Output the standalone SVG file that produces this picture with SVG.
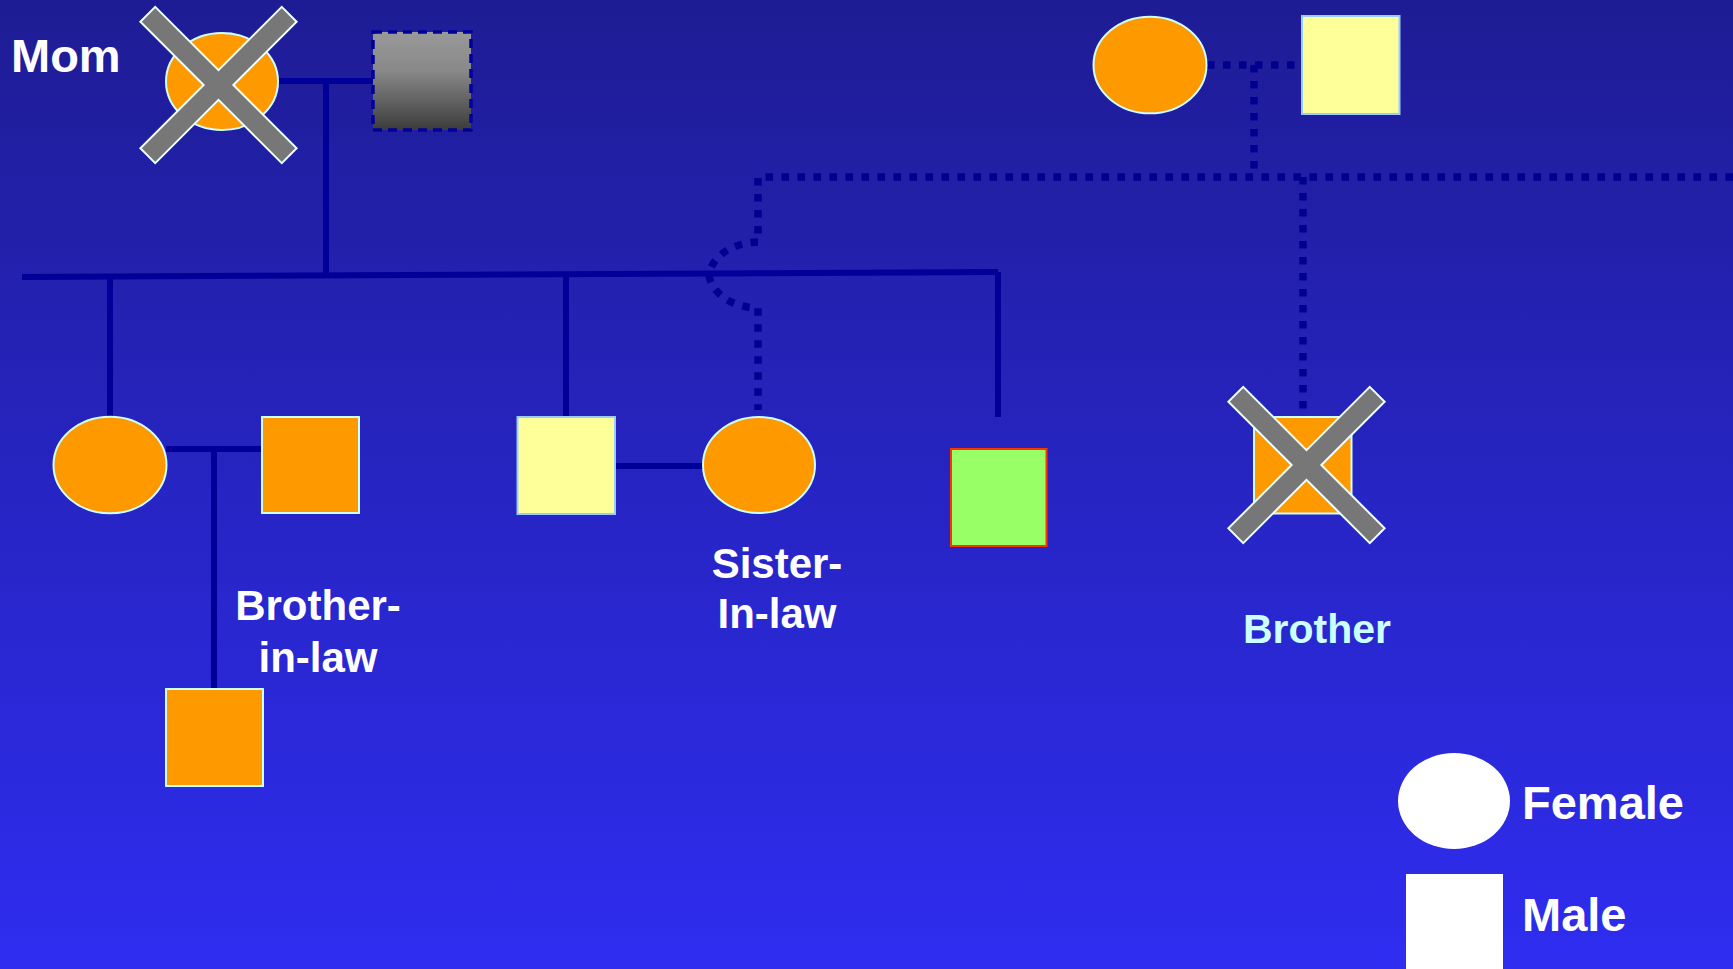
<svg xmlns="http://www.w3.org/2000/svg" width="1733" height="969" viewBox="0 0 1733 969">
<defs>
<linearGradient id="bg" x1="0" y1="0" x2="0" y2="1">
<stop offset="0" stop-color="#1e1c94"/>
<stop offset="1" stop-color="#2f2df0"/>
</linearGradient>
<linearGradient id="grey" x1="0" y1="0" x2="0" y2="1">
<stop offset="0" stop-color="#999999"/>
<stop offset="0.4" stop-color="#888888"/>
<stop offset="1" stop-color="#3c3c3c"/>
</linearGradient>
<path id="xshape" d="M-10.5 -100 H10.5 V-10.5 H100 V10.5 H10.5 V100 H-10.5 V10.5 H-100 V-10.5 H-10.5 Z"/>
<style>
.line{fill:none;stroke:#000099;stroke-width:6}
.dot{fill:none;stroke:#000090;stroke-width:7.5;stroke-dasharray:7.5 8.5}
.orange{fill:#ff9900;stroke:#ccffff;stroke-width:2}
.yellow{fill:#ffff99;stroke:#99ccff;stroke-width:2}
.cross{fill:#777777;stroke:#eeffff;stroke-width:2}
.lbl{font-family:"Liberation Sans",Arial,sans-serif;font-weight:bold;fill:#ffffff}
</style>
</defs>
<rect x="0" y="0" width="1733" height="969" fill="url(#bg)"/>
<g id="connectors">
<line class="line" x1="278" y1="81" x2="373" y2="81"/>
<line class="line" x1="326" y1="81" x2="326" y2="276"/>
<line class="line" x1="22" y1="277" x2="998" y2="272"/>
<line class="line" x1="110" y1="277" x2="110" y2="417"/>
<line class="line" x1="566" y1="275" x2="566" y2="417"/>
<line class="line" x1="998" y1="272" x2="998" y2="417"/>
<line class="line" x1="166" y1="449" x2="262" y2="449"/>
<line class="line" x1="214" y1="449" x2="214" y2="689"/>
<line class="line" x1="615" y1="466" x2="703" y2="466"/>
<line class="dot" x1="1207" y1="65" x2="1301" y2="65"/>
<line class="dot" x1="1254" y1="65" x2="1254" y2="177"/>
<path class="dot" d="M1733 177 L758 177 L758 242 C735 242 712 255 709 275 C712 295 735 308 758 308 L758 410"/>
<line class="dot" x1="1303" y1="177" x2="1303" y2="410"/>
</g>
<g id="mom">
<ellipse class="orange" cx="222" cy="81.5" rx="56" ry="48.5"/>
<use href="#xshape" class="cross" transform="translate(218.5 85) rotate(45)"/>
<text class="lbl" x="11" y="72" font-size="47">Mom</text>
</g>
<g id="father">
<rect x="373" y="32" width="98" height="98" fill="url(#grey)" stroke="#000099" stroke-width="3.5" stroke-dasharray="9 6"/>
</g>
<g id="grandmother">
<ellipse class="orange" cx="1150" cy="65" rx="56.5" ry="48.3"/>
</g>
<g id="grandfather">
<rect class="yellow" x="1302" y="16" width="97.5" height="98"/>
</g>
<g id="sister">
<ellipse class="orange" cx="110" cy="465" rx="56.5" ry="48.3"/>
</g>
<g id="brother-in-law">
<rect class="orange" x="262" y="417" width="97" height="96"/>
<text class="lbl" x="318" y="620" font-size="42" text-anchor="middle">Brother-</text>
<text class="lbl" x="318" y="672" font-size="42" text-anchor="middle">in-law</text>
</g>
<g id="nephew">
<rect class="orange" x="166" y="689" width="97" height="97"/>
</g>
<g id="yellow-son">
<rect class="yellow" x="517.5" y="417" width="97.5" height="97"/>
</g>
<g id="sister-in-law">
<ellipse class="orange" cx="759" cy="465" rx="56" ry="48"/>
<text class="lbl" x="777" y="578" font-size="42" text-anchor="middle">Sister-</text>
<text class="lbl" x="777" y="628" font-size="42" text-anchor="middle">In-law</text>
</g>
<g id="green-son">
<rect x="951" y="449" width="95.5" height="97" fill="#99ff66" stroke="#ff3300" stroke-width="2"/>
</g>
<g id="brother">
<rect class="orange" x="1254" y="417" width="97.5" height="96.5"/>
<use href="#xshape" class="cross" transform="translate(1306.5 465) rotate(45)"/>
<text class="lbl" x="1243" y="643" font-size="41" style="fill:#ccffff">Brother</text>
</g>
<g id="legend-female">
<ellipse cx="1454" cy="801" rx="56" ry="48" fill="#ffffff"/>
<text class="lbl" x="1522" y="819" font-size="47">Female</text>
</g>
<g id="legend-male">
<rect x="1406" y="874" width="97" height="97" fill="#ffffff"/>
<text class="lbl" x="1522" y="931" font-size="47">Male</text>
</g>
</svg>
